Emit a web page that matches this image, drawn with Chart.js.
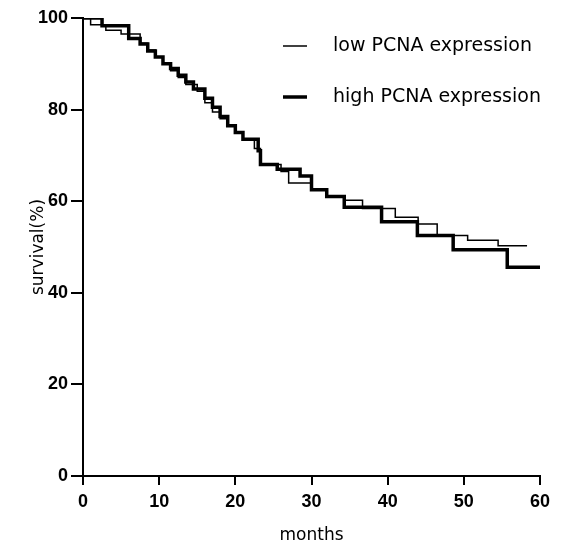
<!DOCTYPE html>
<html>
<head>
<meta charset="utf-8">
<script src="https://cdn.jsdelivr.net/npm/chart.js@4/dist/chart.umd.min.js"></script>
<style>
  html, body { margin: 0; padding: 0; background: #fff; }
  #wrap { width: 565px; height: 546px; }
</style>
</head>
<body>
<div id="wrap"><canvas id="kmChart" width="565" height="546"></canvas></div>
<script>
// Kaplan-Meier steps: month of drop and survival (%) after the drop
const lowMonths = [0, 1, 3, 5, 7.5, 8.5, 9.5, 10.5, 11.5, 12.5, 13.5, 15, 16, 17, 18, 19, 20, 21, 22.5, 23.3, 26, 27, 30, 32, 34.3, 36.7, 41, 44, 46.5, 50.5, 54.5, 58.3];
const lowSurvival = [100, 98.5, 97.3, 96.5, 94.5, 93, 91.5, 90, 88.5, 87, 85.5, 84, 81.5, 79.5, 78, 76.5, 75, 73.5, 71.5, 68, 66.5, 64, 62.5, 61, 60.2, 58.4, 56.5, 55, 52.5, 51.5, 50.3, 50.3];

const highMonths = [0, 2.5, 6, 7.5, 8.5, 9.5, 10.5, 11.5, 12.5, 13.5, 14.5, 16, 17, 18, 19, 20, 21, 23, 23.3, 25.5, 28.5, 30, 32, 34.3, 39.2, 43.9, 48.6, 55.7, 60];
const highSurvival = [100, 98.3, 95.5, 94.3, 92.8, 91.5, 90, 89, 87.5, 86, 84.5, 82.5, 80.5, 78.5, 76.5, 75, 73.5, 71, 68, 67, 65.5, 62.5, 61, 58.7, 55.5, 52.5, 49.4, 45.6, 45.6];

const xTicks = [0, 10, 20, 30, 40, 50, 60];
const yTicks = [0, 20, 40, 60, 80, 100];

const toPoints = (xs, ys) => xs.map((x, i) => ({ x: x, y: ys[i] }));

// legend drawn inside the plot, top right
const insideLegend = {
  id: "insideLegend",
  afterDraw(chart) {
    const ctx = chart.ctx;
    const rows = [
      { ds: chart.data.datasets[0], y: 46 },
      { ds: chart.data.datasets[1], y: 97 }
    ];
    ctx.save();
    ctx.fillStyle = "#000";
    ctx.strokeStyle = "#000";
    ctx.font = "19px 'DejaVu Sans'";
    ctx.textBaseline = "middle";
    rows.forEach(r => {
      ctx.lineWidth = r.ds.borderWidth;
      ctx.beginPath();
      ctx.moveTo(283, r.y);
      ctx.lineTo(307, r.y);
      ctx.stroke();
      ctx.fillText(r.ds.label, 333, r.y);
    });
    ctx.restore();
  }
};

const tickFont = { family: "'Liberation Sans'", size: 18, weight: "bold" };

new Chart(document.getElementById("kmChart").getContext("2d"), {
  type: "line",
  data: {
    datasets: [
      {
        label: "low PCNA expression",
        data: toPoints(lowMonths, lowSurvival),
        borderColor: "#000",
        borderWidth: 1.5,
        stepped: "before",
        pointRadius: 0,
        fill: false
      },
      {
        label: "high PCNA expression",
        data: toPoints(highMonths, highSurvival),
        borderColor: "#000",
        borderWidth: 3.5,
        stepped: "before",
        pointRadius: 0,
        fill: false
      }
    ]
  },
  options: {
    responsive: false,
    animation: false,
    layout: { padding: { top: 18, right: 25, left: 0, bottom: 0 } },
    plugins: {
      legend: { display: false },
      tooltip: { enabled: false }
    },
    scales: {
      x: {
        type: "linear",
        min: 0,
        max: 60,
        afterBuildTicks: s => { s.ticks = xTicks.map(v => ({ value: v })); },
        afterFit: s => { s.height = 70; },
        border: { display: true, color: "#000", width: 2 },
        grid: { drawOnChartArea: false, drawTicks: true, tickLength: 9, color: "#000", lineWidth: 2 },
        ticks: { color: "#000", font: tickFont, padding: 6, maxRotation: 0 },
        title: {
          display: true,
          text: "months",
          color: "#000",
          font: { family: "'DejaVu Sans'", size: 17 },
          padding: { top: 0, bottom: 0 }
        }
      },
      y: {
        min: 0,
        max: 100,
        afterBuildTicks: s => { s.ticks = yTicks.map(v => ({ value: v })); },
        afterFit: s => { s.width = 83; },
        border: { display: true, color: "#000", width: 2 },
        grid: { drawOnChartArea: false, drawTicks: true, tickLength: 12, color: "#000", lineWidth: 2 },
        ticks: { color: "#000", font: tickFont, padding: 3 },
        title: {
          display: true,
          text: "survival(%)",
          color: "#000",
          font: { family: "'DejaVu Sans'", size: 17 },
          padding: { top: 28, bottom: 0 }
        }
      }
    }
  },
  plugins: [insideLegend]
});
</script>
</body>
</html>
